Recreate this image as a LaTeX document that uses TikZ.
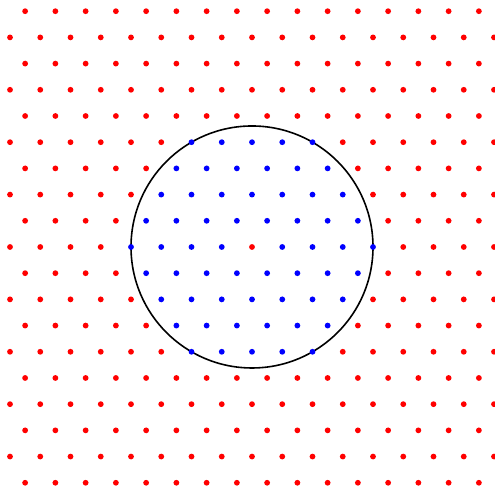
\documentclass[tikz,border=0pt]{standalone}
\usepackage{tikz}
\usetikzlibrary{calc}
\tikzset{latdot/.style={radius=2.9pt}}

\begin{document}
\begin{tikzpicture}[x=30.25pt,y=30.25pt]
    \useasboundingbox (-8.331,-8.0) rectangle (8.033,8.165);
    \clip (-8.331,-8.0) rectangle (8.033,8.165);
    \draw[line width=1.6pt] (0,0) circle (4);
    % lattice points, blue inside the circle, red elsewhere
    \foreach \j in {-9,...,9}
      \foreach \i in {-9,...,9} {
        \pgfmathsetmacro\xx{\i+0.5*isodd(\j)}
        \pgfmathsetmacro\yy{\j*sqrt(3)/2}
        \pgfmathsetmacro\rr{veclen(\xx,\yy)}
        \def\dotcol{red}
        \ifdim\rr pt<4.01pt \ifdim\rr pt>0.01pt \def\dotcol{blue}\fi\fi
        \fill[\dotcol,latdot] (\xx,\yy) circle[];
      }
  \end{tikzpicture}
\end{document}
